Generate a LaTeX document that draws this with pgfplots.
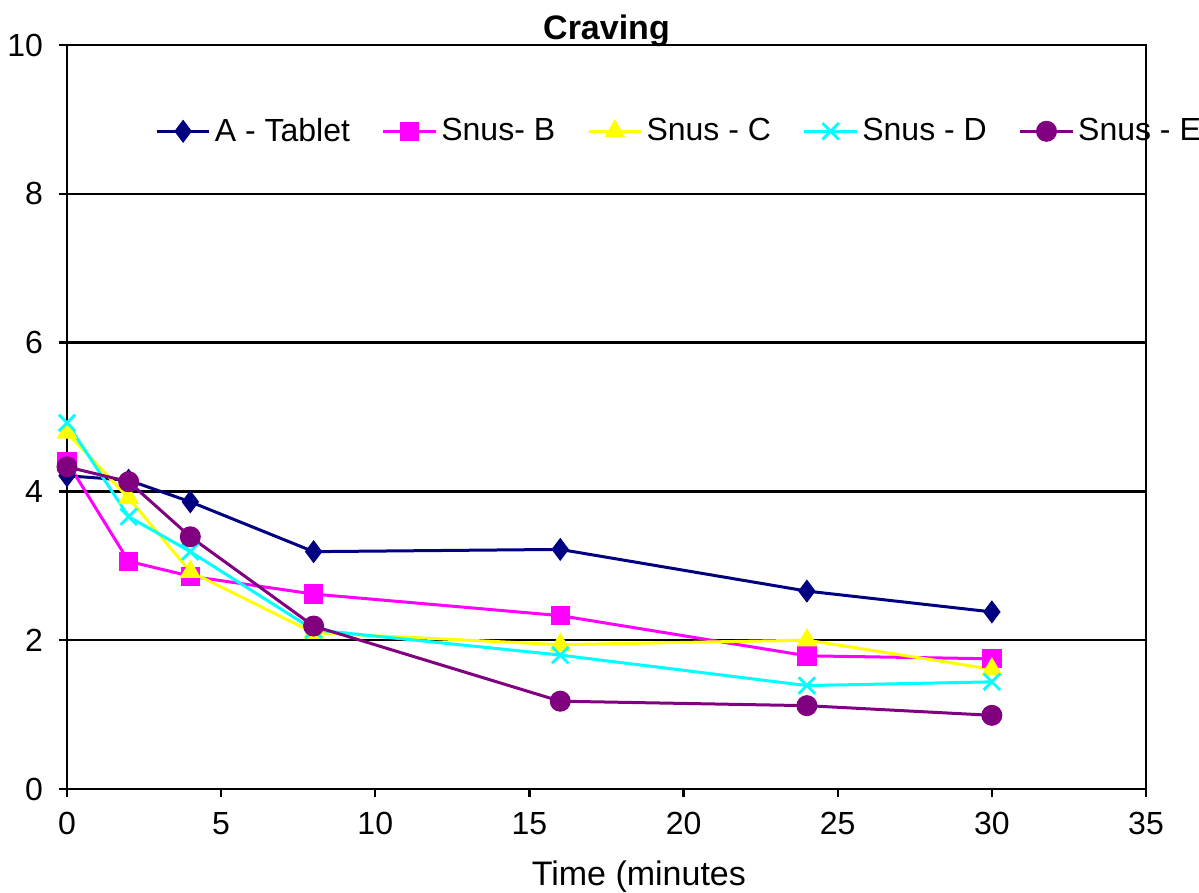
\documentclass[border=0pt]{standalone}
\usepackage{pgfplots}
\pgfplotsset{compat=1.18}
\usepackage{fontspec}
\setmainfont{Liberation Sans}

\definecolor{cNavy}{RGB}{0,0,128}
\definecolor{cMag}{RGB}{255,0,255}
\definecolor{cYel}{RGB}{255,255,0}
\definecolor{cCyan}{RGB}{0,255,255}
\definecolor{cPurp}{RGB}{128,0,128}

\begin{document}
\begin{tikzpicture}
\begin{axis}[
  at={(0,0)}, anchor=south west,
  width=539.5pt, height=372pt, scale only axis,
  xmin=0, xmax=35, ymin=0, ymax=10,
  xtick={0,5,...,35}, ytick={0,2,...,10},
  tick pos=left, tick align=outside,
  major tick length=4pt,
  tick style={black, line width=1.2pt},
  axis line style={black, line width=1.3pt},
  ymajorgrids, grid style={black, line width=1.2pt},
  clip=false,
  /pgf/number format/assume math mode=true,
  tick label style={font=\fontsize{16}{19}\selectfont},
  yticklabel style={xshift=-4.5pt},
  xticklabel style={yshift=-4pt},
  title={\textbf{Craving}},
  title style={font=\fontsize{17}{20}\selectfont, at={(0.5,1)}, anchor=base, yshift=-3.5pt},
  xlabel={Time (minutes},
  xlabel style={font=\fontsize{17}{20}\selectfont, at={(axis description cs:0.53,0)}, anchor=base, yshift=-48.5pt},
  legend columns=5,
  legend style={draw=none, fill=none, at={(rel axis cs:0.0816,0.884)}, anchor=west,
    inner sep=0pt, font=\fontsize{16}{19}\selectfont,
    /tikz/every even column/.append style={column sep=14pt},
    nodes={inner sep=2pt}},
  legend image code/.code={\draw[mark repeat=2,mark phase=2] plot coordinates {(0cm,0cm) (0.46cm,0cm) (0.92cm,0cm)};},
  every axis plot/.append style={line width=1.5pt},
]
\addplot[color=cNavy, mark=diamond*, mark size=5.4pt, mark options={solid, line width=0.5pt}]
  coordinates {(0,4.21) (2,4.15) (4,3.86) (8,3.19) (16,3.22) (24,2.66) (30,2.38)};
\addlegendentry{A - Tablet}
\addplot[color=cMag, mark=square*, mark size=4.6pt, mark options={solid, line width=0.5pt}]
  coordinates {(0,4.40) (2,3.06) (4,2.86) (8,2.62) (16,2.33) (24,1.79) (30,1.75)};
\addlegendentry{Snus- B}
\addplot[color=cYel, mark=triangle*, mark size=5.6pt, mark options={solid, line width=0.5pt}]
  coordinates {(0,4.79) (2,3.91) (4,2.92) (8,2.10) (16,1.94) (24,2.00) (30,1.61)};
\addlegendentry{Snus - C}
\addplot[color=cCyan, mark=x, mark size=5.8pt, mark options={solid, line width=1.4pt}]
  coordinates {(0,4.92) (2,3.66) (4,3.19) (8,2.14) (16,1.80) (24,1.39) (30,1.44)};
\addlegendentry{Snus - D}
\addplot[color=cPurp, mark=*, mark size=5pt, mark options={solid, line width=0.5pt}]
  coordinates {(0,4.33) (2,4.13) (4,3.39) (8,2.19) (16,1.18) (24,1.12) (30,0.99)};
\addlegendentry{Snus - E}
\end{axis}
\pgfresetboundingbox
\path[use as bounding box] (-33.5pt,-52pt) rectangle (566pt,394.5pt);
\end{tikzpicture}
\end{document}
